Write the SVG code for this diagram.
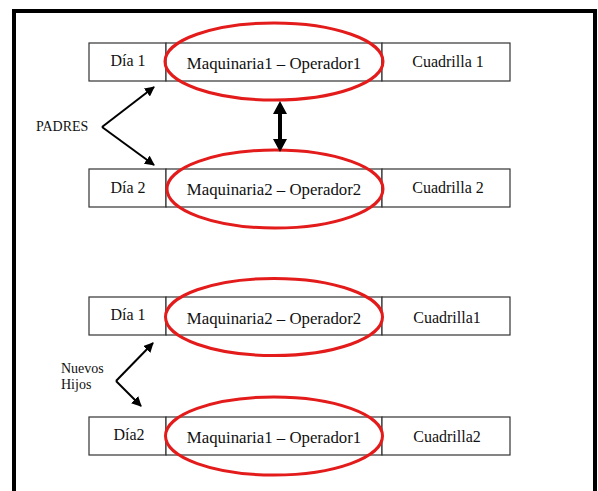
<svg xmlns="http://www.w3.org/2000/svg" width="598" height="491" viewBox="0 0 598 491">
<style>
.cell{fill:#fff;stroke:#333;stroke-width:1.2}
.t{font-family:"Liberation Serif","Times New Roman","DejaVu Serif",serif;font-size:16px;fill:#111;text-anchor:middle}
.m{font-size:16.8px}
.lbl{font-family:"Liberation Serif","Times New Roman","DejaVu Serif",serif;font-size:14px;fill:#111}
.ring{fill:none;stroke:#e31b1b;stroke-width:3}
.conn{fill:none;stroke:#000;stroke-width:2}
</style>
<defs>
<marker id="ah" viewBox="0 0 10 10" refX="9" refY="5" markerWidth="5" markerHeight="5" orient="auto" markerUnits="strokeWidth">
<path d="M0,0 L10,5 L0,10 z" fill="#000"/>
</marker>
</defs>
<rect x="0" y="0" width="598" height="491" fill="#fff"/>
<path d="M14,495 L14,11 L595,11 L595,495" fill="none" stroke="#000" stroke-width="4"/>

<g id="row1">
<rect class="cell" x="89" y="43" width="77" height="38"/>
<rect class="cell" x="166" y="43" width="216" height="38"/>
<rect class="cell" x="382" y="43" width="128" height="38"/>
<text class="t" x="128" y="66">Día 1</text>
<text class="t m" x="274" y="69">Maquinaria1 – Operador1</text>
<text class="t" x="448" y="67">Cuadrilla 1</text>
<ellipse class="ring" cx="274" cy="61.5" rx="109" ry="38.5"/>
</g>

<g id="row2">
<rect class="cell" x="89" y="169" width="77" height="38"/>
<rect class="cell" x="166" y="169" width="216" height="38"/>
<rect class="cell" x="382" y="169" width="128" height="38"/>
<text class="t" x="128" y="193">Día 2</text>
<text class="t m" x="274" y="195">Maquinaria2 – Operador2</text>
<text class="t" x="448" y="193">Cuadrilla 2</text>
<ellipse class="ring" cx="275" cy="189" rx="108" ry="39"/>
</g>

<g id="row3">
<rect class="cell" x="89" y="297" width="77" height="38"/>
<rect class="cell" x="166" y="297" width="216" height="38"/>
<rect class="cell" x="382" y="297" width="128" height="38"/>
<text class="t" x="128" y="320">Día 1</text>
<text class="t m" x="274" y="324">Maquinaria2 – Operador2</text>
<text class="t" x="447" y="323">Cuadrilla1</text>
<ellipse class="ring" cx="274" cy="317" rx="108.5" ry="38.5"/>
</g>

<g id="row4">
<rect class="cell" x="89" y="417" width="77" height="38"/>
<rect class="cell" x="166" y="417" width="216" height="38"/>
<rect class="cell" x="382" y="417" width="128" height="38"/>
<text class="t" x="129" y="440">Día2</text>
<text class="t m" x="274" y="443">Maquinaria1 – Operador1</text>
<text class="t" x="447" y="442">Cuadrilla2</text>
<ellipse class="ring" cx="274" cy="436" rx="108.5" ry="39"/>
</g>

<g id="label-padres">
<text class="lbl" x="36" y="131">PADRES</text>
</g>
<g id="label-hijos">
<text class="lbl" x="61" y="373">Nuevos</text>
<text class="lbl" x="61" y="389">Hijos</text>
</g>

<g id="connectors">
<path class="conn" d="M102,127 L154,87" marker-end="url(#ah)"/>
<path class="conn" d="M102,127 L154,165" marker-end="url(#ah)"/>
<path class="conn" d="M116,381 L153,343" marker-end="url(#ah)"/>
<path class="conn" d="M116,381 L141,406" marker-end="url(#ah)"/>
<path d="M280,101 L287,114 L282,114 L282,139 L287,139 L280,152 L273,139 L278,139 L278,114 L273,114 Z" fill="#000"/>
</g>
</svg>
